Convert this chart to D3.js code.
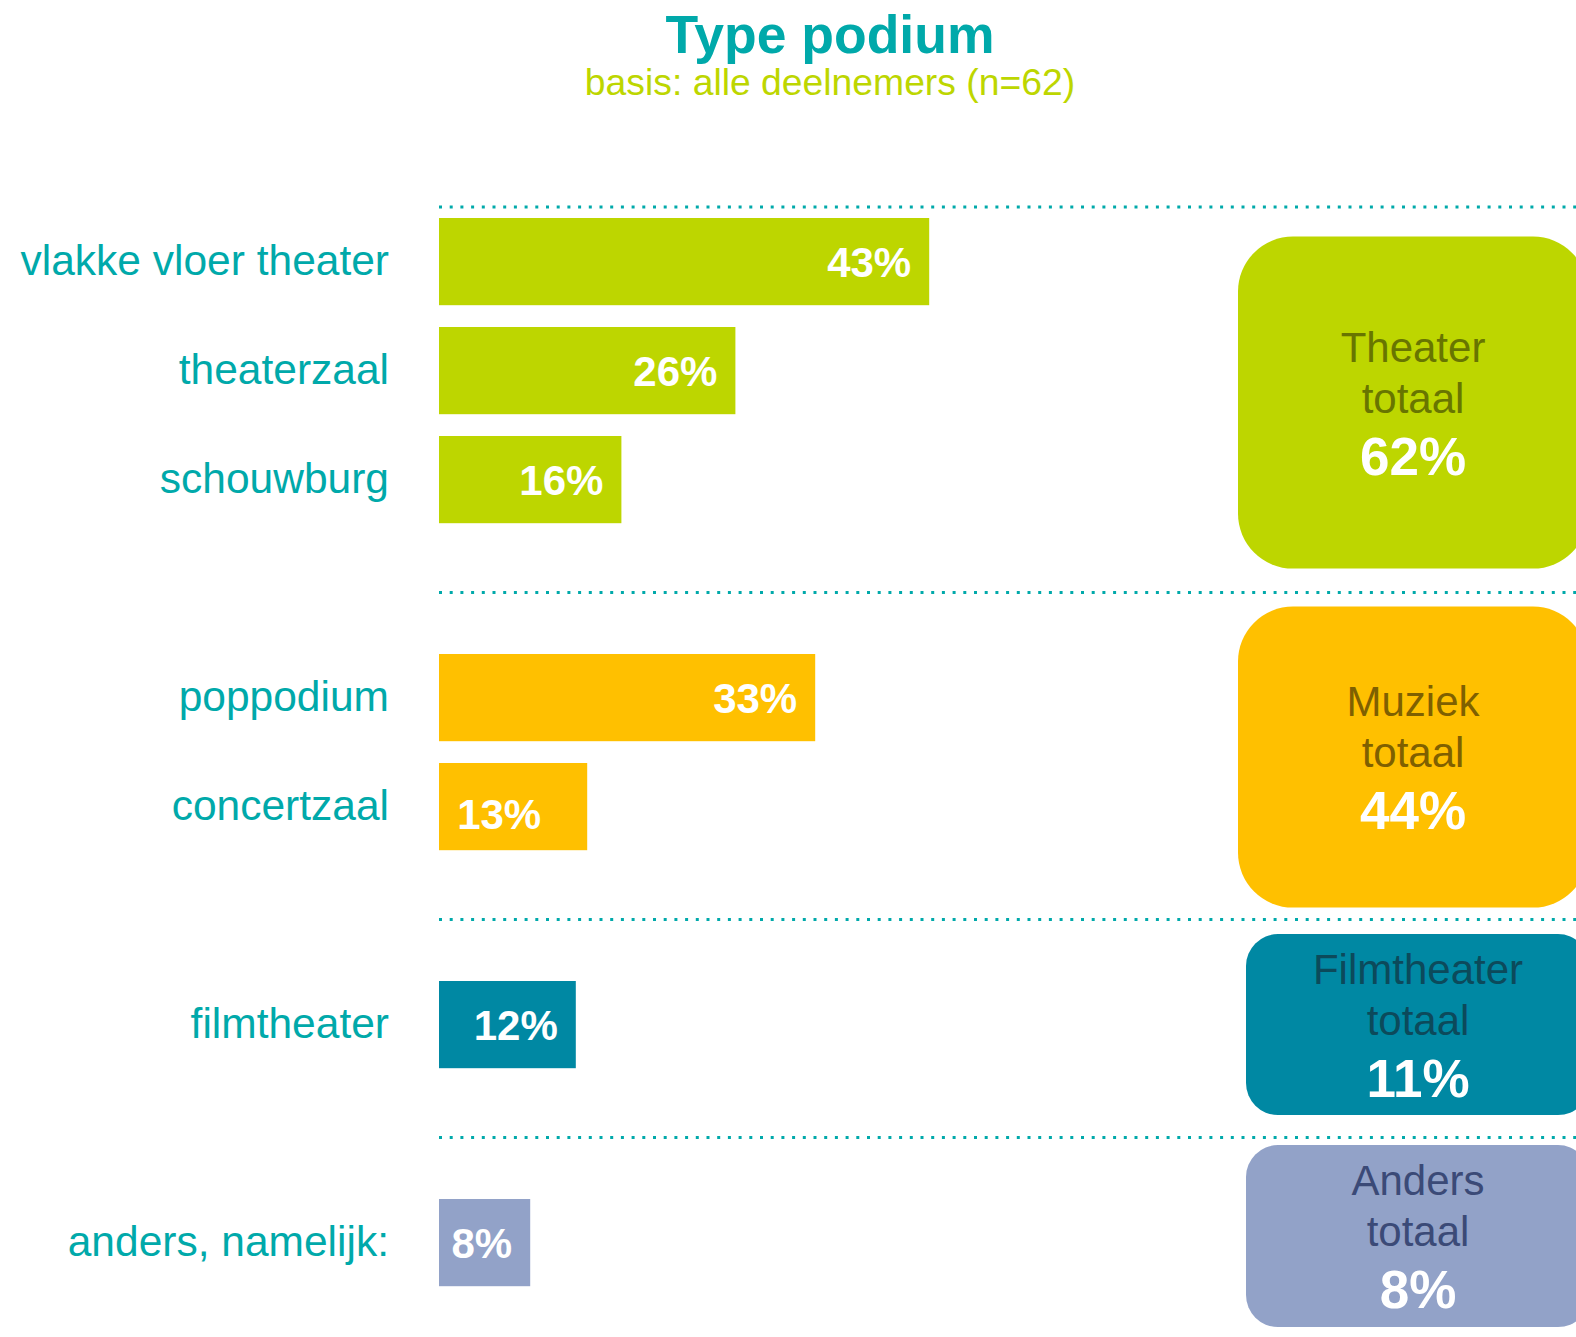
<!DOCTYPE html>
<html>
<head>
<meta charset="utf-8">
<script src="https://cdn.jsdelivr.net/npm/d3@7"></script>
<style>
  html, body { margin: 0; padding: 0; background: #ffffff; }
  svg { display: block; font-family: "Liberation Sans", Arial, sans-serif; }
</style>
</head>
<body>
<div id="chart"></div>
<script>
/* Data */
var categories = ["vlakke vloer theater", "theaterzaal", "schouwburg", "poppodium", "concertzaal", "filmtheater", "anders, namelijk:"];
var values = [43, 26, 16, 33, 13, 12, 8];
var categoryGroup = ["Theater", "Theater", "Theater", "Muziek", "Muziek", "Filmtheater", "Anders"];

var groups = ["Theater", "Muziek", "Filmtheater", "Anders"];
var groupTotals = [62, 44, 11, 8];

/* Size */
var width = 1576;
var height = 1337;

/* Colours */
var teal = "#00a9aa";
var groupFill = {Theater: "#bdd600", Muziek: "#ffc000", Filmtheater: "#0088a3", Anders: "#92a2c8"};
var groupText = {Theater: "#687500", Muziek: "#7f6000", Filmtheater: "#0c4a5b", Anders: "#3b4a77"};

/* Box layout (right column) */
var boxLayout = {
	Theater:     {x: 1238, w: 350, h: 332, dy: 32,   r: 55},
	Muziek:      {x: 1238, w: 350, h: 301, dy: 5,    r: 55},
	Filmtheater: {x: 1246, w: 344, h: 181, dy: 0,    r: 32},
	Anders:      {x: 1246, w: 344, h: 182, dy: -6.5, r: 32}
};

var svg = d3.select("#chart").append("svg")
			.attr("width", width)
			.attr("height", height);

svg.append("rect").attr("width", width).attr("height", height).attr("fill", "#ffffff");

/* Title */
svg.append("text")
	.attr("x", 830).attr("y", 53)
	.attr("text-anchor", "middle")
	.attr("font-size", 53.5).attr("font-weight", "bold")
	.attr("fill", teal)
	.text("Type podium");

svg.append("text")
	.attr("x", 830).attr("y", 95)
	.attr("text-anchor", "middle")
	.attr("font-size", 37.3)
	.attr("fill", "#bdd600")
	.text("basis: alle deelnemers (n=62)");

/* Rows: one slot per bar, an empty slot between groups */
var slots = [];
var s = 0;
categories.forEach(function(c, i){
	if (i > 0 && categoryGroup[i] !== categoryGroup[i-1]) s += 1;
	slots.push(s);
	s += 1;
});
var nSlots = s;

var y = d3.scaleBand()
		  .domain(d3.range(nSlots))
		  .range([207.1, 207.1 + nSlots * 109])
		  .paddingInner(0.2)
		  .paddingOuter(0.1);

var x = d3.scaleLinear()
		  .domain([0, 100])
		  .range([439, 439 + 1140]);

/* Dotted separators: above the first group and in each empty slot */
var sepY = [y(0) - 11];
slots.forEach(function(sl, i){
	if (i > 0 && sl - slots[i-1] > 1) sepY.push(y(sl - 1) + y.bandwidth() / 2 + 4);
});

svg.append("g").selectAll("line")
	.data(sepY)
	.enter().append("line")
	.attr("x1", 439).attr("x2", width)
	.attr("y1", function(d){ return d; })
	.attr("y2", function(d){ return d; })
	.attr("stroke", teal)
	.attr("stroke-width", 3)
	.attr("stroke-dasharray", "3,7.7");

var rows = categories.map(function(c, i){
	return {name: c, value: values[i], group: categoryGroup[i], slot: slots[i]};
});

/* Bars */
var bar_g = svg.append("g");

bar_g.selectAll("rect")
	.data(rows)
	.enter().append("rect")
	.attr("x", x(0))
	.attr("y", function(d){ return y(d.slot); })
	.attr("width", function(d){ return x(d.value) - x(0); })
	.attr("height", y.bandwidth())
	.attr("fill", function(d){ return groupFill[d.group]; });

/* Category labels */
bar_g.selectAll("text.cat")
	.data(rows)
	.enter().append("text")
	.attr("class", "cat")
	.attr("x", 389)
	.attr("y", function(d){ return y(d.slot) + y.bandwidth() / 2 + 13; })
	.attr("text-anchor", "end")
	.attr("font-size", 42.5)
	.attr("fill", teal)
	.text(function(d){ return d.name; });

/* Value labels, the concertzaal one sits a bit lower-left in the original */
var nudge = {"concertzaal": {dx: -28, dy: 7}};

bar_g.selectAll("text.val")
	.data(rows)
	.enter().append("text")
	.attr("class", "val")
	.attr("x", function(d){ return x(d.value) - 18 + (nudge[d.name] ? nudge[d.name].dx : 0); })
	.attr("y", function(d){ return y(d.slot) + y.bandwidth() / 2 + 15 + (nudge[d.name] ? nudge[d.name].dy : 0); })
	.attr("text-anchor", "end")
	.attr("font-size", 42).attr("font-weight", "bold")
	.attr("fill", "#ffffff")
	.text(function(d){ return d.value + "%"; });

/* Group total boxes */
var boxes = groups.map(function(g, i){
	var gr = rows.filter(function(r){ return r.group === g; });
	var top = y(gr[0].slot);
	var bottom = y(gr[gr.length - 1].slot) + y.bandwidth();
	var L = boxLayout[g];
	return {name: g, total: groupTotals[i], cy: (top + bottom) / 2 + L.dy, L: L};
});

var box_g = svg.append("g").selectAll("g")
	.data(boxes)
	.enter().append("g")
	.attr("transform", function(d){ return "translate(" + (d.L.x + d.L.w / 2) + "," + d.cy + ")"; });

box_g.append("rect")
	.attr("x", function(d){ return -d.L.w / 2; })
	.attr("y", function(d){ return -d.L.h / 2; })
	.attr("width", function(d){ return d.L.w; })
	.attr("height", function(d){ return d.L.h; })
	.attr("rx", function(d){ return d.L.r; })
	.attr("ry", function(d){ return d.L.r; })
	.attr("fill", function(d){ return groupFill[d.name]; });

box_g.append("text")
	.attr("y", -41)
	.attr("text-anchor", "middle")
	.attr("font-size", 42)
	.attr("fill", function(d){ return groupText[d.name]; })
	.text(function(d){ return d.name; });

box_g.append("text")
	.attr("y", 10)
	.attr("text-anchor", "middle")
	.attr("font-size", 42)
	.attr("fill", function(d){ return groupText[d.name]; })
	.text("totaal");

box_g.append("text")
	.attr("y", 72)
	.attr("text-anchor", "middle")
	.attr("font-size", 53).attr("font-weight", "bold")
	.attr("fill", "#ffffff")
	.text(function(d){ return d.total + "%"; });
</script>
</body>
</html>
